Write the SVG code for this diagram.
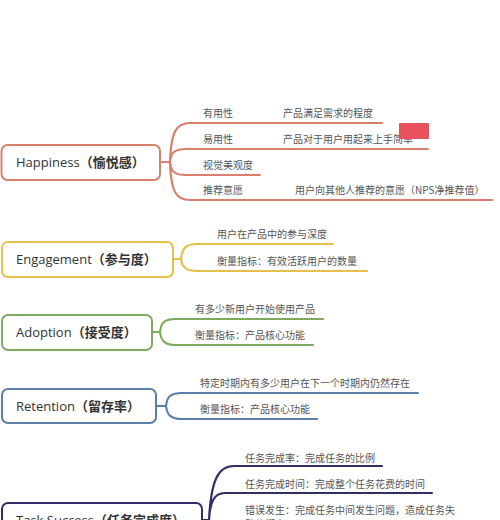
<svg xmlns="http://www.w3.org/2000/svg" width="500" height="520" viewBox="0 0 500 520">
<style>
.box{fill:#fff;stroke-width:2;}
.title{font-family:"Open Sans","Noto Sans CJK SC",sans-serif;font-size:13px;fill:#333;}
.title .cjk{font-weight:bold;}
.sub{font-family:"Noto Sans CJK SC","Noto Sans",sans-serif;font-size:10px;fill:#555;}
.c{fill:none;stroke-width:2.2;stroke-linecap:round;}
.h{stroke:#d9806d;}
.e{stroke:#e6c04a;}
.a{stroke:#7daa5c;}
.r{stroke:#5b7fab;}
.t{stroke:#2f2f66;}
</style>
<rect width="500" height="520" fill="#fff"/>
<g id="connectors">
  <path class="c h" d="M160,162 H170 M170,162 C171,132 176,123 190,123 H382 M170,162 C171,152 175,149 186,149 H428 M170,162 C171,172 175,175 186,175 H260 M170,162 C171,192 176,200 190,200 H492"/>
  <path class="c e" d="M173,259 H181 M181,259 C182,248 186,244 197,244 H333 M181,259 C182,267 186,271 197,271 H367"/>
  <path class="c a" d="M152,332 H160 M160,332 C161,322 165,319 176,319 H323 M160,332 C161,341 165,345 176,345 H313"/>
  <path class="c r" d="M156,406 H166 M166,406 C167,396 171,393 182,393 H418 M166,406 C167,415 171,419 182,419 H317"/>
  <path class="c t" d="M202,520 H209 M209,520 C211,480 218,466 234,466 H382 M209,520 C210,502 214,493 225,493 H432 M209,520 C210,530 214,535 225,535 H470"/>
</g>
<g id="happiness">
  <rect class="box h" x="1.5" y="145" width="158.5" height="35" rx="6"/>
  <text class="title" x="16" y="167">Happiness<tspan class="cjk">（愉悦感）</tspan></text>
  <text class="sub" x="203" y="117">有用性</text>
  <text class="sub" x="283" y="117">产品满足需求的程度</text>
  <text class="sub" x="203" y="143">易用性</text>
  <text class="sub" x="283" y="143">产品对于用户用起来上手简单</text>
  <text class="sub" x="203" y="169">视觉美观度</text>
  <text class="sub" x="203" y="194">推荐意愿</text>
  <text class="sub" x="295" y="194">用户向其他人推荐的意愿（NPS净推荐值）</text>
  <rect x="399" y="123" width="30" height="16" fill="#e8525d" rx="1"/>
</g>
<g id="engagement">
  <rect class="box e" x="2" y="242" width="171" height="35" rx="6"/>
  <text class="title" x="16" y="264">Engagement<tspan class="cjk">（参与度）</tspan></text>
  <text class="sub" x="217" y="238">用户在产品中的参与深度</text>
  <text class="sub" x="217" y="265">衡量指标：有效活跃用户的数量</text>
</g>
<g id="adoption">
  <rect class="box a" x="2" y="315" width="150" height="35" rx="6"/>
  <text class="title" x="16" y="337">Adoption<tspan class="cjk">（接受度）</tspan></text>
  <text class="sub" x="195" y="313">有多少新用户开始使用产品</text>
  <text class="sub" x="195" y="339">衡量指标：产品核心功能</text>
</g>
<g id="retention">
  <rect class="box r" x="2" y="389" width="154" height="34" rx="6"/>
  <text class="title" x="16" y="411">Retention<tspan class="cjk">（留存率）</tspan></text>
  <text class="sub" x="200" y="387">特定时期内有多少用户在下一个时期内仍然存在</text>
  <text class="sub" x="200" y="413">衡量指标：产品核心功能</text>
</g>
<g id="task-success">
  <rect class="box t" x="2" y="503" width="200" height="35" rx="6"/>
  <text class="title" x="16" y="525">Task Success<tspan class="cjk">（任务完成度）</tspan></text>
  <text class="sub" x="245" y="462">任务完成率：完成任务的比例</text>
  <text class="sub" x="245" y="488">任务完成时间：完成整个任务花费的时间</text>
  <text class="sub" x="245" y="514">错误发生：完成任务中间发生问题，造成任务失</text>
  <text class="sub" x="245" y="528">败的概率</text>
</g>
</svg>
